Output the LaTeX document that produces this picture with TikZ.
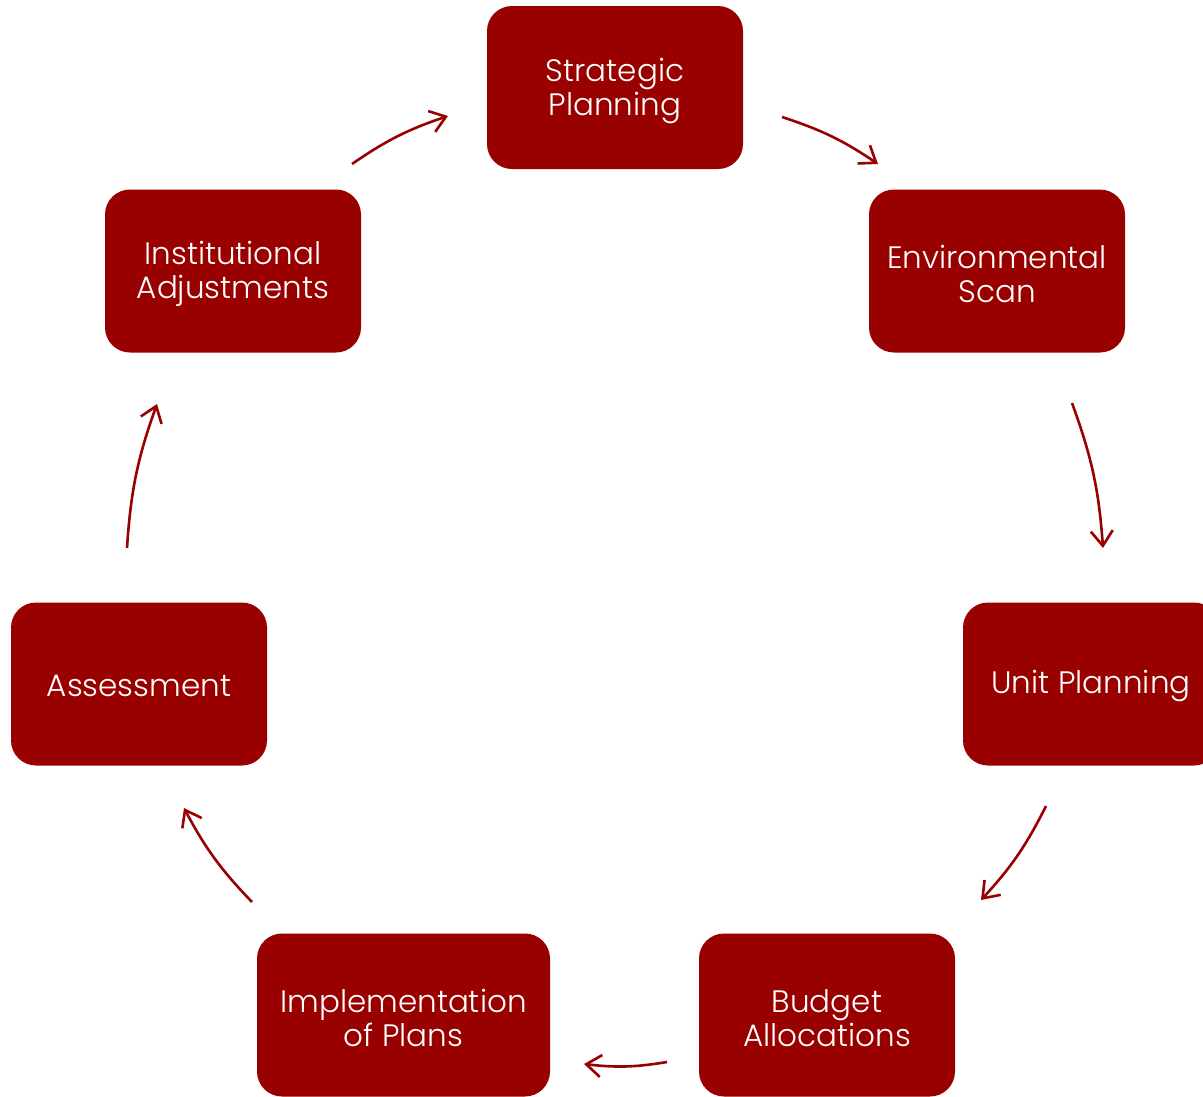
\documentclass[tikz,border=0pt]{standalone}
\usepackage{fontspec}
\setmainfont{Poppins Light}
\usetikzlibrary{arrows.meta}
\definecolor{boxred}{HTML}{990000}
\begin{document}
\begin{tikzpicture}[x=1pt,y=-1pt,
  stepbox/.style={fill=boxred,rounded corners=25pt,minimum width=256pt,minimum height=163pt,inner sep=0pt},
  steptext/.style={inner sep=0pt,text=white,align=center,font=\fontsize{31}{34}\selectfont},
  arr/.style={draw=boxred,line width=2.6pt,-{Straight Barb[length=15pt,width=22pt,line width=2.6pt]}}]
\useasboundingbox (0,0) rectangle (1203,1096);
\clip (0,0) rectangle (1203,1096);
\node[stepbox] (sp) at (615,87.5) {};
\node[stepbox] (es) at (997,271) {};
\node[stepbox] (up) at (1091,684) {};
\node[stepbox] (ba) at (827,1015) {};
\node[stepbox,minimum width=293pt] (ip) at (403.5,1015) {};
\node[stepbox] (as) at (139,684) {};
\node[stepbox] (ia) at (233,271) {};
\node[steptext] (spt) at ([yshift=-3pt]sp.center) {Strategic\\Planning};
\node[steptext] (est) at ([yshift=-3pt]es.center) {Environmental\\Scan};
\node[steptext] (upt) at ([yshift=-2pt]up.center) {Unit Planning};
\node[steptext] (bat) at ([yshift=-3pt]ba.center) {Budget\\Allocations};
\node[steptext] (ipt) at ([yshift=-3pt]ip.center) {Implementation\\of Plans};
\node[steptext] (ast) at ([yshift=-2pt]as.center) {Assessment};
\node[steptext] (iat) at ([yshift=-3pt]ia.center) {Institutional\\Adjustments};
\coordinate (a1s) at (782,117); \coordinate (a1e) at (878,164);
\coordinate (a2s) at (1072,403); \coordinate (a2e) at (1103,548);
\coordinate (a3s) at (1046,806); \coordinate (a3e) at (981,900);
\coordinate (a4s) at (667,1062); \coordinate (a4e) at (584,1064);
\coordinate (a5s) at (252,902); \coordinate (a5e) at (184,808);
\coordinate (a6s) at (127,548); \coordinate (a6e) at (157,404);
\coordinate (a7s) at (352,164); \coordinate (a7e) at (448,116);
\draw[arr] (a1s) to[bend left=8] (a1e);
\draw[arr] (a2s) to[bend left=8] (a2e);
\draw[arr] (a3s) to[bend left=8] (a3e);
\draw[arr] (a4s) to[bend left=8] (a4e);
\draw[arr] (a5s) to[bend left=8] (a5e);
\draw[arr] (a6s) to[bend left=8] (a6e);
\draw[arr] (a7s) to[bend left=8] (a7e);
\end{tikzpicture}
\end{document}
